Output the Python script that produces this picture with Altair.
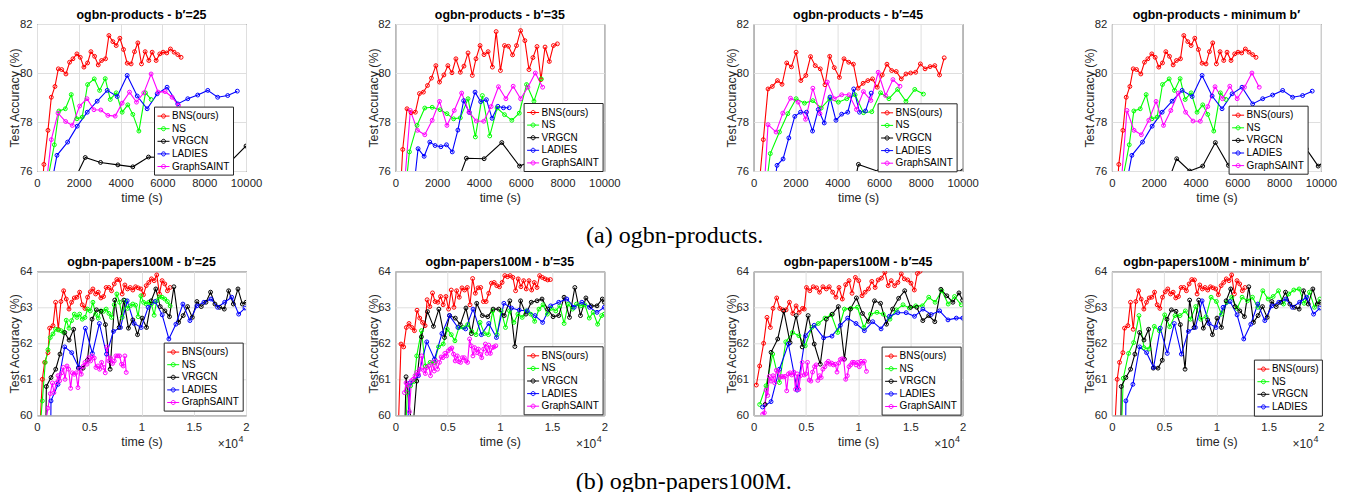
import altair as alt
import pandas as pd

METHODS = ["BNS(ours)", "NS", "VRGCN", "LADIES", "GraphSAINT"]
METHOD_COLORS = ["#ff0000", "#00ff00", "#000000", "#0000ff", "#ff00ff"]

PROD_X_TICKS = [0, 2000, 4000, 6000, 8000, 10000]
PROD_Y_TICKS = [76, 78, 80, 82]
PAP_X_TICKS = [0, 5000, 10000, 15000, 20000]
PAP_Y_TICKS = [60, 61, 62, 63, 64]
EXP_BASE = ["×10"]
EXP_POWER = ["4"]
CAPTION_A = ["(a) ogbn-products."]
CAPTION_B = ["(b) ogbn-papers100M."]

# ---------------- ogbn-products ----------------
prod_bns_t = [200, 330, 525, 685, 860, 1020, 1180, 1385, 1560, 1720, 1910, 2070, 2245, 2420, 2580, 2755, 2930, 3090, 3280, 3440,
              3630, 3790, 3965, 4140, 4315, 4505, 4665, 4825, 5000, 5175, 5350, 5510, 5700, 5875, 6035, 6210, 6385, 6560, 6735, 6895]
prod_bns_acc = [74.5, 76.27, 77.66, 79.01, 79.45, 80.17, 80.14, 79.96, 80.44, 80.58, 80.78, 80.64, 80.24, 80.41, 80.87, 80.68, 80.33, 80.51, 80.58, 81.53,
                81.28, 81.12, 81.42, 80.96, 80.40, 80.37, 80.87, 81.23, 80.37, 80.87, 80.51, 80.85, 80.51, 80.78, 80.85, 80.82, 80.98, 80.85, 80.75, 80.64]
prod_ns_t = [570, 830, 1050, 1355, 1640, 1910, 2165, 2420, 2740, 2995, 3265, 3505, 3790, 4075, 4345, 4585, 4875, 5190, 5460]
prod_ns_acc = [75.9, 77.07, 78.45, 78.54, 79.12, 78.13, 78.2, 79.53, 79.76, 79.29, 79.77, 78.92, 79.19, 78.4, 78.7, 78.31, 77.63, 79.19, 78.92]
prod_ladies_t = [480, 955, 1465, 1925, 2405, 2880, 3360, 3840, 4315, 4795, 5270, 5750, 6225, 6735, 7215, 7690, 8170, 8645, 9125, 9585]
prod_ladies_acc = [74.5, 76.64, 77.18, 77.83, 78.4, 78.85, 79.29, 79.04, 79.9, 79.06, 78.54, 79.15, 79.42, 78.74, 78.95, 79.1, 79.29, 79.01, 79.08, 79.26]
prod25_vrgcn_t = [1600, 2310, 3040, 3870, 4585, 5335, 6100, 6900, 7700, 8500, 9280, 10000]
prod25_vrgcn_acc = [75.3, 76.55, 76.35, 76.25, 76.17, 76.57, 76.55, 76.6, 76.3, 76.5, 76.4, 77.02]
prod25_saint_t = [450, 685, 1005, 1370, 1690, 2040, 2390, 2725, 3055, 3390, 3740, 4075, 4425, 4760, 5110, 5460, 5795, 6130, 6465, 6770]
prod25_saint_acc = [75.5, 77.28, 78.36, 78.02, 77.86, 78.65, 78.95, 78.5, 78.49, 78.27, 78.24, 78.77, 79.22, 78.81, 79.19, 79.96, 79.22, 79.24, 79.01, 78.68]

prod35_bns_t = [270, 355, 560, 755, 960, 1155, 1345, 1540, 1730, 1940, 2115, 2325, 2515, 2710, 2900, 3110, 3285, 3480, 3685, 3860,
                4055, 4245, 4440, 4645, 4825, 5030, 5225, 5415, 5610, 5800, 5995, 6200, 6395, 6585, 6780, 6970, 7165, 7370, 7565, 7755]
prod35_bns_acc = [75.5, 76.88, 78.54, 78.38, 78.4, 79.16, 79.22, 79.49, 79.79, 80.3, 79.63, 79.92, 80.3, 80.01, 80.58, 80.03, 80.28, 80.82, 79.9, 80.58,
                  81.12, 80.75, 80.87, 80.24, 81.69, 80.1, 81.12, 81.09, 80.74, 81.12, 81.73, 81.32, 80.14, 80.63, 81.08, 79.73, 81.06, 80.47, 81.12, 81.19]
prod35_ns_t = [500, 675, 1040, 1410, 1765, 2145, 2470, 2790, 3110, 3480, 3830, 4165, 4520, 4870, 5225, 5575, 5930, 6280, 6635, 6985]
prod35_ns_acc = [75.3, 76.78, 77.86, 78.57, 78.6, 78.5, 78.34, 78.13, 78.17, 78.95, 77.39, 79.08, 77.43, 78.57, 78.3, 78.07, 78.36, 79.53, 78.85, 79.76]
prod35_ladies_t = [910, 1090, 1380, 1650, 1905, 2180, 2450, 2725, 2995, 3270, 3540, 3815, 4085, 4360, 4630, 4905, 5175, 5450]
prod35_ladies_acc = [75.5, 76.91, 76.6, 77.18, 77.04, 76.99, 77.07, 76.78, 77.67, 78.87, 78.39, 79.22, 78.83, 78.91, 78.15, 78.64, 78.58, 78.58]
prod35_vrgcn_t = [3000, 3400, 4250, 5095, 5945, 6800, 7645, 8500, 9350, 10200]
prod35_vrgcn_acc = [75.6, 76.52, 76.5, 77.16, 76.2, 76.5, 76.14, 76.3, 76.3, 75.8]
prod_saint2_t = [400, 720, 1060, 1410, 1765, 2115, 2470, 2820, 3175, 3525, 3880, 4230, 4585, 4935, 5290, 5640, 5995, 6345, 6700, 7050]
prod_saint2_acc = [75.0, 78.47, 77.66, 77.48, 78.07, 78.84, 77.86, 78.47, 79.18, 78.4, 78.04, 78.03, 78.63, 79.44, 78.95, 79.46, 78.95, 79.42, 80.0, 79.42]

prod45_bns_t = [200, 465, 690, 895, 1140, 1360, 1585, 1810, 2035, 2260, 2500, 2725, 2950, 3190, 3415, 3640, 3860, 4105, 4325, 4550,
                4775, 5000, 5240, 5465, 5690, 5915, 6155, 6380, 6605, 6825, 7065, 7290, 7515, 7755, 7980, 8205, 8445, 8670, 8895, 9120]
prod45_bns_acc = [74.8, 77.28, 79.35, 79.45, 79.69, 79.54, 80.41, 80.25, 80.85, 79.69, 79.9, 80.67, 80.3, 80.17, 79.52, 80.68, 80.22, 79.82, 80.58, 80.44,
                  80.36, 79.38, 79.58, 79.69, 79.76, 79.42, 79.92, 80.36, 80.1, 80.06, 79.76, 79.96, 80.0, 80.03, 80.37, 80.17, 80.26, 80.3, 79.92, 80.62]
prod45_ns_t = [620, 800, 1235, 1635, 2035, 2435, 2835, 3235, 3640, 4055, 4455, 4855, 5255, 5655, 6075, 6475, 6890, 7290, 7710, 8125]
prod45_ns_acc = [75.5, 76.71, 77.59, 78.34, 78.95, 78.77, 78.87, 78.57, 78.95, 78.81, 78.95, 79.11, 78.38, 78.42, 79.19, 78.95, 79.33, 78.84, 79.33, 79.14]
prod45_ladies_t = [1040, 1120, 1410, 1685, 1970, 2245, 2530, 2820, 3095, 3380, 3655, 3940, 4215, 4505, 4790, 5065, 5355, 5625]
prod45_ladies_acc = [75.7, 76.23, 76.49, 77.35, 78.23, 78.4, 78.4, 77.63, 78.51, 77.96, 79.02, 78.07, 78.32, 78.4, 79.35, 78.4, 78.45, 79.18]
prod45_vrgcn_t = [4800, 5015, 5980, 7000, 8000, 9000, 10000]
prod45_vrgcn_acc = [75.4, 76.27, 75.98, 76.0, 75.98, 76.02, 76.0]
prod45_saint_t = [510, 690, 1075, 1395, 1765, 2130, 2485, 2835, 3175, 3525, 3860, 4215, 4565, 4920, 5255, 5610, 5960, 6315, 6665, 7005]
prod45_saint_acc = [75.3, 77.89, 77.59, 78.36, 78.97, 78.81, 78.11, 79.38, 78.34, 79.63, 78.95, 79.11, 79.11, 78.51, 79.24, 78.88, 80.03, 79.08, 79.73, 79.46]

prodmin_vrgcn_t = [2700, 3100, 3720, 4345, 4950, 5575, 6200, 6800, 7450, 8050, 8680, 9300, 9870, 10500]
prodmin_vrgcn_acc = [75.6, 76.5, 76.0, 76.2, 77.16, 76.23, 76.6, 76.4, 76.5, 76.3, 76.8, 76.9, 76.2, 76.6]

# ---------------- ogbn-papers100M ----------------
pap_bns_t = [190, 510, 730, 1050, 1210, 1530, 1780, 2040, 2290, 2550, 2800, 3060, 3310, 3570, 3820, 4080, 4330, 4590, 4840, 5100,
             5350, 5610, 5860, 6110, 6370, 6620, 6880, 7130, 7390, 7640, 7900, 8150, 8410, 8660, 8920, 9170, 9430, 9680, 9940, 10190,
             10450, 10700, 10950, 11210, 11460, 11720, 11970, 12230, 12480, 12740]
pap_bns_acc = [59.1, 61.0, 61.47, 61.74, 62.42, 62.49, 63.14, 62.39, 63.16, 63.46, 63.23, 62.95, 63.14, 63.26, 63.28, 63.42, 63.07, 62.97, 63.28, 63.43,
               63.51, 63.37, 63.42, 63.26, 63.3, 63.55, 63.55, 63.46, 63.65, 63.77, 63.76, 63.37, 63.62, 63.51, 63.55, 63.48, 63.57, 63.54, 63.51, 63.35,
               63.6, 63.69, 63.79, 63.74, 63.9, 63.37, 63.74, 63.65, 63.46, 63.55]
pap25_ns_t = [250, 510, 790, 1050, 1270, 1530, 1780, 2040, 2290, 2550, 2800, 3060, 3310, 3570, 3820, 4080, 4330, 4590, 4840, 5100,
              5350, 5610, 5860, 6110, 6370, 6620, 6880, 7130, 7390, 7640, 7900, 8150, 8410, 8660, 8920, 9170, 9430, 9680, 9940, 10190,
              10450, 10700, 10950, 11210, 11460, 11720, 11970, 12230, 12480, 12740]
pap25_ns_acc = [59.5, 60.4, 61.47, 61.82, 62.16, 62.26, 62.39, 62.37, 62.35, 62.3, 62.64, 62.42, 62.63, 62.81, 62.72, 62.81, 62.67, 62.72, 62.95, 62.9,
                63.14, 62.81, 62.7, 62.9, 62.89, 62.95, 62.83, 62.72, 63.07, 63.37, 63.14, 62.72, 63.19, 62.97, 63.04, 63.09, 63.06, 62.74, 63.32, 63.14,
                63.09, 63.14, 63.09, 62.78, 63.18, 63.29, 63.28, 63.23, 63.16, 63.04]
pap_vrgcn_t = [820, 895, 1340, 1790, 2200, 2650, 3070, 3510, 3960, 4410, 4820, 5270, 5690, 6130, 6550, 7000, 7440, 7860, 8310, 8750,
               9170, 9620, 10060, 10480, 10930, 11370, 11790, 12240, 12680, 13100, 13550, 13990, 14410, 14860, 15300, 15720, 16170, 16610, 17030, 17480,
               17920, 18340, 18790, 19230, 19650, 20000]
pap_vrgcn_acc = [59.0, 60.8, 61.05, 61.28, 61.7, 62.3, 62.09, 62.39, 61.31, 61.31, 61.53, 62.67, 62.93, 62.89, 62.52, 61.28, 63.2, 62.44, 63.2, 62.42,
                 62.65, 62.24, 62.7, 62.44, 63.18, 63.51, 63.02, 62.9, 62.74, 63.57, 62.58, 62.77, 63.02, 62.72, 63.16, 63.02, 63.14, 63.42, 63.09, 63.0,
                 62.95, 63.46, 63.09, 63.51, 63.09, 63.14]
pap_ladies_t = [1310, 1340, 2010, 2650, 3320, 3990, 4630, 5300, 5970, 6650, 7320, 7990, 8630, 9300, 9970, 10640, 11310, 11980, 12620, 13290,
                13960, 14630, 15300, 15970, 16650, 17280, 17960, 18630, 19300, 19900]
pap_ladies_acc = [59.5, 60.4, 60.86, 61.9, 61.74, 61.33, 62.42, 61.72, 62.55, 61.7, 62.33, 62.44, 63.18, 62.55, 62.44, 63.0, 63.16, 62.79, 62.12, 62.53,
                  63.09, 62.63, 63.04, 63.14, 63.23, 63.0, 63.14, 63.28, 62.81, 62.98]
pap25_saint_t = [890, 1050, 1270, 1470, 1620, 1850, 2010, 2170, 2360, 2520, 2680, 2870, 3030, 3220, 3380, 3570, 3730, 3920, 4080, 4240,
                 4430, 4590, 4780, 4940, 5130, 5290, 5480, 5640, 5830, 5990, 6180, 6370, 6530, 6690, 6880, 7040, 7230, 7390, 7550, 7740,
                 7900, 8090, 8250, 8410, 8540]
pap25_saint_acc = [59.9, 60.2, 60.6, 60.9, 60.63, 60.9, 61.1, 60.96, 61.18, 61.33, 61.0, 61.37, 61.28, 60.75, 61.18, 61.14, 61.18, 60.77, 61.28, 61.14,
                   61.37, 61.47, 61.42, 61.6, 61.51, 61.65, 61.59, 61.33, 61.37, 61.28, 61.47, 61.33, 61.18, 61.9, 61.51, 61.59, 61.44, 61.51, 61.65, 61.65,
                   61.65, 61.42, 61.37, 61.65, 61.19]

pap35_bns_t = [320, 545, 800, 1060, 1310, 1570, 1830, 2080, 2340, 2600, 2850, 3045, 3300, 3560, 3810, 4070, 4330, 4580, 4840, 5100,
               5350, 5610, 5870, 6120, 6380, 6630, 6890, 7150, 7400, 7660, 7920, 8170, 8430, 8690, 8940, 9200, 9460, 9710, 9970, 10220,
               10480, 10740, 10990, 11250, 11510, 11760, 12020, 12280, 12530, 12790, 13050, 13300, 13560, 13810, 14070, 14330, 14580, 14840]
pap35_bns_acc = [59.9, 61.98, 61.9, 62.44, 62.55, 62.44, 62.35, 62.92, 62.7, 62.58, 62.49, 63.21, 63.02, 63.4, 63.16, 63.14, 63.3, 63.07, 63.3, 62.95,
                 63.48, 63.0, 63.46, 63.28, 63.54, 63.48, 63.55, 63.07, 63.8, 63.39, 63.54, 63.55, 63.16, 63.16, 63.39, 63.67, 63.69, 63.6, 63.57, 63.69,
                 63.88, 63.85, 63.88, 63.83, 63.46, 63.79, 63.57, 63.74, 63.51, 63.74, 63.48, 63.69, 63.55, 63.88, 63.83, 63.79, 63.76, 63.77]
pap35_ns_t = [1000, 1150, 1470, 1790, 2050, 2500, 2885, 3330, 3750, 4135, 4585, 4970, 5355, 5705, 6090, 6505, 6925, 7310, 7725, 8110,
              8525, 8910, 9325, 9745, 10130, 10545, 10930, 11345, 11730, 12145, 12530, 12950, 13335, 13750, 14135, 14550, 14935, 15355, 15735, 16155,
              16540, 16955, 17340, 17755, 18140, 18560, 18940, 19360, 19745, 20000]
pap35_ns_acc = [59.6, 60.63, 60.82, 60.94, 61.65, 62.35, 61.37, 61.47, 61.47, 61.9, 61.98, 62.39, 62.24, 62.07, 62.44, 62.44, 62.52, 62.33, 62.24, 62.58,
                62.27, 62.24, 62.9, 62.24, 62.9, 62.44, 62.9, 62.58, 62.81, 62.72, 62.9, 62.81, 62.61, 62.95, 63.07, 62.81, 62.97, 62.9, 63.04, 62.55,
                63.09, 62.95, 63.09, 63.04, 63.07, 62.7, 62.86, 62.53, 62.77, 62.81]
pap35_vrgcn_t = [900, 1030, 1650, 2050, 2500, 3080, 3650, 4170, 4710, 5190, 5740, 6220, 6760, 7280, 7790, 8330, 8850, 9360, 9900, 10420,
                 10960, 11440, 11990, 12500, 13010, 13560, 14040, 14580, 15100, 15640, 16150, 16670, 17180, 17720, 18240, 18750, 19300, 19810, 20000]
pap35_vrgcn_acc = [59.5, 61.07, 59.5, 60.95, 62.18, 62.88, 62.47, 62.95, 62.16, 62.77, 62.7, 62.52, 62.98, 62.27, 63.11, 62.77, 62.74, 62.95, 62.95, 62.77,
                   63.18, 61.91, 63.18, 62.81, 63.14, 63.18, 63.23, 62.95, 62.74, 62.77, 63.28, 62.72, 63.55, 62.77, 63.26, 63.04, 63.04, 63.23, 63.14]
pap35_ladies_t = [1190, 1410, 2210, 3010, 3750, 4460, 5190, 5990, 6730, 7440, 8240, 8940, 9680, 10390, 11120, 11860, 12630, 13370, 14100, 14870,
                  15640, 16410, 17120, 17850, 18590, 19300, 20000]
pap35_ladies_acc = [59.8, 60.9, 61.1, 62.04, 61.56, 62.27, 62.77, 62.44, 62.4, 62.95, 62.24, 62.55, 62.16, 63.11, 62.98, 62.92, 62.9, 62.77, 62.58, 63.04,
                    63.14, 63.23, 63.0, 63.14, 63.0, 62.86, 63.0]
pap35_saint_t = [870, 1030, 1220, 1350, 1540, 1700, 1890, 2050, 2210, 2370, 2530, 2720, 2880, 3040, 3210, 3370, 3560, 3720, 3880, 4040,
                 4230, 4390, 4550, 4740, 4900, 5060, 5250, 5410, 5570, 5730, 5930, 6090, 6250, 6410, 6600, 6760, 6920, 7110, 7270, 7430,
                 7590, 7790, 7950, 8110, 8270, 8460, 8620, 8780, 8940, 9100, 9300, 9460, 9620]
pap35_saint_acc = [60.63, 60.9, 60.84, 60.1, 60.96, 61.0, 61.1, 61.19, 61.14, 61.28, 61.65, 61.25, 61.16, 61.33, 61.37, 61.1, 61.47, 61.23, 61.51, 61.28,
                   61.47, 61.62, 61.6, 61.72, 61.65, 61.79, 61.84, 61.87, 61.7, 61.51, 61.65, 61.49, 61.47, 61.6, 61.6, 61.51, 61.47, 62.12, 61.93, 61.65,
                   61.88, 61.74, 61.84, 61.7, 61.6, 61.84, 61.98, 61.72, 61.95, 61.72, 61.88, 61.9, 61.93]

pap45_bns_t = [260, 580, 960, 1280, 1600, 1860, 2210, 2500, 2790, 3110, 3430, 3750, 4070, 4360, 4680, 4840, 5060, 5380, 5710, 6030,
               6310, 6630, 6960, 7240, 7560, 7880, 8170, 8490, 8810, 9130, 9420, 9740, 10060, 10380, 10670, 10990, 11310, 11630, 11920, 12240,
               12560, 12880, 13170, 13490, 13810, 14130, 14420, 14740, 15060, 15380, 15670, 15930]
pap45_bns_acc = [60.84, 61.37, 62.0, 62.72, 62.44, 62.97, 63.26, 62.97, 62.93, 62.93, 63.14, 62.83, 63.04, 62.86, 62.97, 62.95, 63.55, 63.46, 63.57, 63.54,
                 63.42, 63.57, 63.51, 63.57, 63.42, 63.28, 63.55, 63.23, 63.63, 63.74, 63.39, 63.83, 63.74, 63.32, 63.42, 63.51, 63.72, 63.55, 63.76, 63.81,
                 63.97, 63.6, 63.74, 63.6, 63.69, 63.93, 63.79, 63.76, 63.67, 63.48, 63.94, 64.0]
pap45_ns_t = [580, 1190, 1830, 2470, 3080, 3720, 4330, 4940, 5580, 6190, 6830, 7440, 8050, 8690, 9300, 9940, 10550, 11190, 11800, 12400,
              13050, 13650, 14300, 14900, 15510, 16150, 16760, 17370, 18010, 18620, 19230, 19870]
pap45_ns_acc = [60.3, 60.82, 61.7, 60.91, 62.04, 62.3, 62.21, 61.93, 62.44, 62.55, 62.7, 62.79, 62.3, 62.95, 62.97, 63.0, 62.44, 62.81, 62.86, 62.81,
                62.67, 62.93, 63.07, 62.98, 63.04, 63.04, 63.28, 63.14, 63.46, 63.09, 63.3, 63.07]
pap45_vrgcn_t = [1100, 1670, 2310, 2890, 3490, 4070, 4650, 5220, 5800, 6380, 6960, 7530, 8110, 8690, 9260, 9840, 10420, 10990, 11570, 12150,
                 12720, 13300, 13880, 14460, 15030, 15610, 16190, 16760, 17340, 17920, 18490, 19070, 19650, 20000]
pap45_vrgcn_acc = [60.3, 61.75, 62.12, 62.9, 62.02, 62.77, 61.9, 62.77, 61.98, 61.42, 62.67, 62.81, 63.02, 61.56, 62.95, 63.26, 62.83, 62.61, 63.18, 63.11,
                   62.53, 62.95, 63.25, 63.46, 63.0, 63.0, 62.63, 62.77, 62.6, 63.5, 63.32, 63.14, 63.4, 63.2]
pap45_ladies_t = [860, 1670, 2470, 3330, 4170, 4970, 5800, 6700, 7500, 8300, 9000, 9800, 10600, 11400, 12200, 13000, 13800, 14600, 15400, 16200,
                  17000, 17800, 18600, 19400, 20000]
pap45_ladies_acc = [60.23, 60.38, 61.28, 61.98, 60.7, 62.21, 62.5, 62.15, 62.2, 62.5, 62.7, 62.55, 62.35, 62.6, 62.4, 62.75, 62.85, 62.85, 62.75, 62.95,
                    62.8, 62.9, 62.65, 62.7, 62.7]
pap45_saint_t = [870, 1030, 1190, 1350, 1510, 1670, 1860, 2020, 2180, 2340, 2500, 2660, 2850, 3010, 3170, 3330, 3490, 3650, 3850, 4010,
                 4170, 4330, 4490, 4650, 4840, 5000, 5160, 5320, 5480, 5640, 5830, 5990, 6150, 6310, 6470, 6630, 6830, 6990, 7150, 7310,
                 7470, 7630, 7820, 7980, 8140, 8300, 8460, 8620, 8810, 8970, 9130, 9290, 9450, 9610, 9800, 9960, 10120, 10280, 10440, 10600,
                 10800]
pap45_saint_acc = [60.03, 60.07, 60.7, 60.55, 61.08, 60.95, 61.1, 60.9, 61.25, 61.22, 61.05, 61.08, 61.07, 61.08, 60.68, 61.15, 61.18, 61.12, 61.2, 60.72,
                   61.15, 60.72, 61.1, 61.47, 61.12, 61.15, 61.47, 60.98, 60.95, 61.2, 61.35, 61.4, 60.97, 61.1, 61.05, 61.28, 61.35, 61.45, 61.5, 61.42,
                   61.45, 61.4, 61.42, 61.2, 61.45, 61.55, 61.57, 61.55, 61.0, 61.1, 61.35, 61.4, 61.47, 61.47, 61.4, 61.47, 61.35, 61.5, 61.45, 61.5,
                   61.22]

papmin_ns_t = [900, 1090, 1600, 2080, 2590, 3070, 3550, 4060, 4540, 5050, 5530, 6040, 6520, 7030, 7510, 8020, 8500, 9010, 9490, 10000,
               10480, 10990, 11470, 11980, 12460, 12970, 13450, 13960, 14440, 14950, 15430, 15940, 16420, 16930, 17410, 17920, 18400, 18910, 19390, 19900]
papmin_ns_acc = [59.5, 61.03, 61.72, 62.02, 62.77, 61.88, 61.84, 62.47, 62.35, 62.79, 62.46, 62.77, 62.77, 62.9, 62.67, 63.02, 62.67, 62.74, 63.28, 63.16,
                 62.81, 63.14, 63.28, 62.97, 63.28, 63.18, 63.28, 63.0, 63.46, 63.23, 63.3, 63.46, 63.09, 63.37, 63.48, 63.51, 63.11, 63.42, 63.0, 63.23]

LEGEND_SYMBOL = "M-1,0L1,0M-0.34,0A0.34,0.34,0,1,0,0.34,0A0.34,0.34,0,1,0,-0.34,0"
FONT = "Liberation Sans"
W = 209


def make_panel(title, series, xdom, ydom, xticks, yticks, h, lx, ly, sci, cap=None):
    frames = [pd.DataFrame({"t": t, "acc": v, "method": m}) for m, t, v in series]
    df = pd.concat(frames, ignore_index=True)
    names = [m for m, _, _ in series]
    cols = [METHOD_COLORS[METHODS.index(m)] for m in names]
    if sci:
        xaxis = alt.Axis(values=xticks, title="time (s)", labelExpr="datum.value / 10000")
    else:
        xaxis = alt.Axis(values=xticks, title="time (s)", format="d")
    x = alt.X("t:Q", scale=alt.Scale(domain=xdom, nice=False, zero=False), axis=xaxis)
    y = alt.Y("acc:Q", scale=alt.Scale(domain=ydom, nice=False, zero=False),
              axis=alt.Axis(values=yticks, title="Test Accuracy (%)", format="d"))
    color = alt.Color("method:N", scale=alt.Scale(domain=names, range=cols),
                      legend=alt.Legend(title=None, orient="none", legendX=lx, legendY=ly,
                                        symbolType=LEGEND_SYMBOL, symbolSize=144, symbolStrokeWidth=1,
                                        labelFont=FONT, labelFontSize=10, labelColor="black",
                                        labelOffset=2, padding=3, rowPadding=0.6,
                                        strokeColor="#262626", fillColor="white", cornerRadius=0))
    base = alt.Chart(df).encode(x=x, y=y, color=color)
    lines = base.mark_line(clip=True, strokeWidth=1.1)
    pts = base.mark_point(clip=True, filled=False, size=15, strokeWidth=1, opacity=1)
    layers = [lines, pts]
    if sci:
        t1 = alt.Chart(pd.DataFrame({"s": EXP_BASE})).mark_text(
            align="right", baseline="alphabetic", font=FONT, fontSize=12, color="#262626"
        ).encode(text="s:N", x=alt.value(W - 8), y=alt.value(h + 33))
        t2 = alt.Chart(pd.DataFrame({"s": EXP_POWER})).mark_text(
            align="left", baseline="alphabetic", font=FONT, fontSize=9, color="#262626"
        ).encode(text="s:N", x=alt.value(W - 7.5), y=alt.value(h + 27))
        layers += [t1, t2]
    if cap is not None:
        ctext, cx, cy = cap
        tc = alt.Chart(pd.DataFrame({"c": ctext})).mark_text(
            align="center", baseline="alphabetic", font="Liberation Serif", fontSize=24, color="black"
        ).encode(text="c:N", x=alt.value(cx), y=alt.value(cy))
        layers.append(tc)
    return alt.layer(*layers).properties(
        width=W, height=h,
        title=alt.TitleParams(title, font=FONT, fontSize=12.4, fontWeight="bold", color="black",
                              offset=-3.5, anchor="middle", frame="group"))


PH_TOP = 147
PH_BOT = 144
prod_kw = dict(xdom=[0, 10000], ydom=[76, 82], xticks=PROD_X_TICKS, yticks=PROD_Y_TICKS, h=PH_TOP, sci=False)
pap_kw = dict(xdom=[0, 20000], ydom=[60, 64], xticks=PAP_X_TICKS, yticks=PAP_Y_TICKS, h=PH_BOT, sci=True)

p1 = make_panel("ogbn-products - b′=25", [
    ("BNS(ours)", prod_bns_t, prod_bns_acc), ("NS", prod_ns_t, prod_ns_acc),
    ("VRGCN", prod25_vrgcn_t, prod25_vrgcn_acc), ("LADIES", prod_ladies_t, prod_ladies_acc),
    ("GraphSAINT", prod25_saint_t, prod25_saint_acc)], lx=117, ly=82.6,
    cap=(CAPTION_A, 637.7, 218.5), **prod_kw)
p2 = make_panel("ogbn-products - b′=35", [
    ("BNS(ours)", prod35_bns_t, prod35_bns_acc), ("NS", prod35_ns_t, prod35_ns_acc),
    ("VRGCN", prod35_vrgcn_t, prod35_vrgcn_acc), ("LADIES", prod35_ladies_t, prod35_ladies_acc),
    ("GraphSAINT", prod_saint2_t, prod_saint2_acc)], lx=128.3, ly=79, **prod_kw)
p3 = make_panel("ogbn-products - b′=45", [
    ("BNS(ours)", prod45_bns_t, prod45_bns_acc), ("NS", prod45_ns_t, prod45_ns_acc),
    ("VRGCN", prod45_vrgcn_t, prod45_vrgcn_acc), ("LADIES", prod45_ladies_t, prod45_ladies_acc),
    ("GraphSAINT", prod45_saint_t, prod45_saint_acc)], lx=124, ly=79.3, **prod_kw)
p4 = make_panel("ogbn-products - minimum b′", [
    ("BNS(ours)", prod_bns_t, prod_bns_acc), ("NS", prod_ns_t, prod_ns_acc),
    ("VRGCN", prodmin_vrgcn_t, prodmin_vrgcn_acc), ("LADIES", prod_ladies_t, prod_ladies_acc),
    ("GraphSAINT", prod_saint2_t, prod_saint2_acc)], lx=116.7, ly=81.7, **prod_kw)

p5 = make_panel("ogbn-papers100M - b′=25", [
    ("BNS(ours)", pap_bns_t, pap_bns_acc), ("NS", pap25_ns_t, pap25_ns_acc),
    ("VRGCN", pap_vrgcn_t, pap_vrgcn_acc), ("LADIES", pap_ladies_t, pap_ladies_acc),
    ("GraphSAINT", pap25_saint_t, pap25_saint_acc)], lx=126.7, ly=71.3,
    cap=(CAPTION_B, 646.7, 217.5), **pap_kw)
p6 = make_panel("ogbn-papers100M - b′=35", [
    ("BNS(ours)", pap35_bns_t, pap35_bns_acc), ("NS", pap35_ns_t, pap35_ns_acc),
    ("VRGCN", pap35_vrgcn_t, pap35_vrgcn_acc), ("LADIES", pap35_ladies_t, pap35_ladies_acc),
    ("GraphSAINT", pap35_saint_t, pap35_saint_acc)], lx=128.3, ly=75, **pap_kw)
p7 = make_panel("ogbn-papers100M - b′=45", [
    ("BNS(ours)", pap45_bns_t, pap45_bns_acc), ("NS", pap45_ns_t, pap45_ns_acc),
    ("VRGCN", pap45_vrgcn_t, pap45_vrgcn_acc), ("LADIES", pap45_ladies_t, pap45_ladies_acc),
    ("GraphSAINT", pap45_saint_t, pap45_saint_acc)], lx=128, ly=75.3, **pap_kw)
p8 = make_panel("ogbn-papers100M - minimum b′", [
    ("BNS(ours)", pap_bns_t, pap_bns_acc), ("NS", papmin_ns_t, papmin_ns_acc),
    ("VRGCN", pap_vrgcn_t, pap_vrgcn_acc), ("LADIES", pap_ladies_t, pap_ladies_acc)],
    lx=142, ly=88.3, **pap_kw)

chart = alt.concat(
    p1, p2, p3, p4, p5, p6, p7, p8, columns=4,
    spacing={"row": 100.3, "column": 149.3}, bounds="flush"
).resolve_scale(
    color="independent"
).resolve_legend(
    color="independent"
).properties(
    padding={"left": 0, "top": 0, "right": 0, "bottom": 0}
).configure_view(
    stroke="#262626", strokeWidth=1
).configure_axis(
    labelFont=FONT, labelFontSize=11.3, labelColor="#262626",
    titleFont=FONT, titleFontSize=12.4, titleFontWeight="normal", titleColor="#262626",
    grid=True, gridColor="#dfdfdf", gridWidth=1, domain=False, ticks=False, tickSize=0,
    labelFlush=False, labelOverlap=False
).configure_axisX(
    labelPadding=6, titlePadding=3
).configure_axisY(
    labelPadding=5, titlePadding=-2.5
)

chart.save("out.html", embed_options={"renderer": "svg", "actions": False})
